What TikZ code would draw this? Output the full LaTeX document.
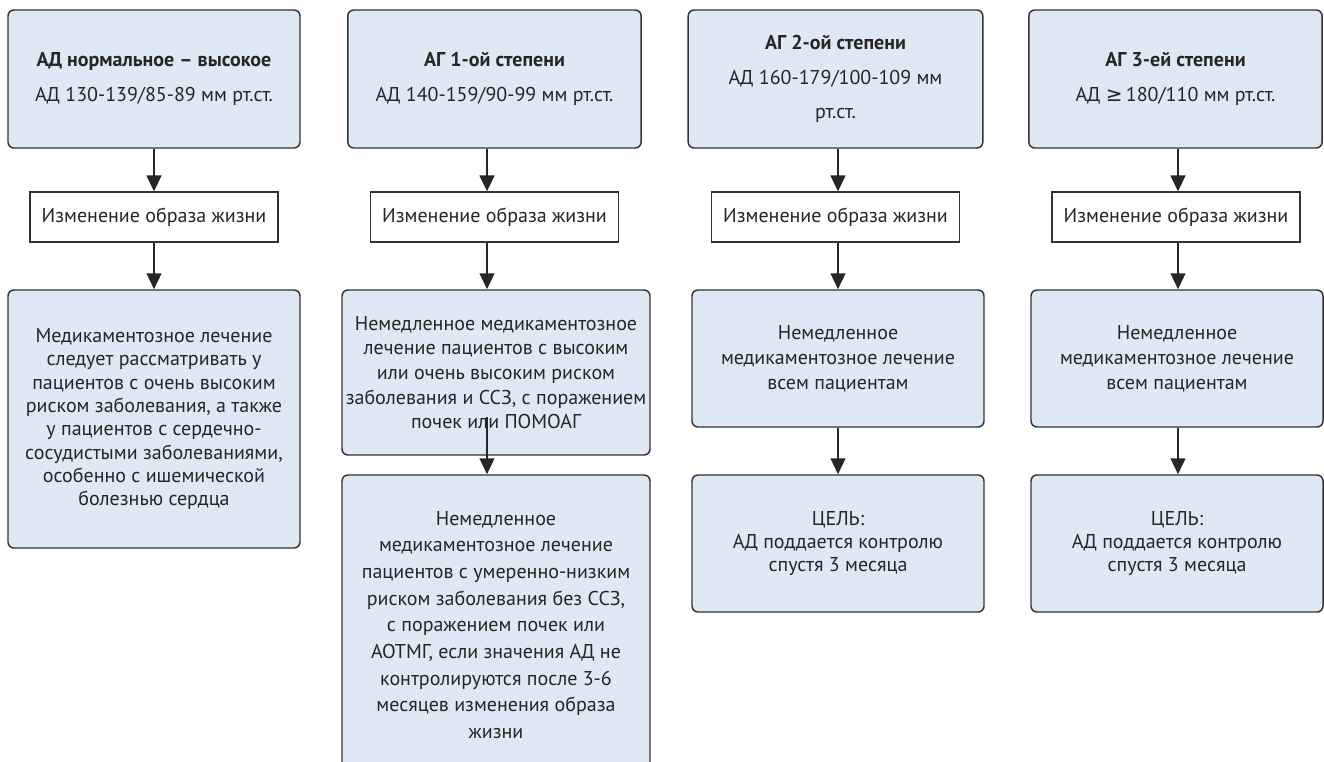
\documentclass[tikz,border=0pt]{standalone}
\usepackage{fontspec}
\setmainfont{PT Sans}
\newfontfamily\symfont{DejaVu Sans}
\usetikzlibrary{arrows.meta}

\definecolor{boxblue}{RGB}{223,232,245}
\definecolor{boxline}{RGB}{51,51,51}
\definecolor{inkgray}{RGB}{38,38,38}
\newcommand\boxfont[1]{\fontsize{15}{#1}\selectfont}

\tikzset{
  stage/.style={draw=boxline, line width=1.1pt, fill=boxblue, rounded corners=4.5pt,
    align=center, inner sep=0pt, text=inkgray, font=\boxfont{18}},
  lifebox/.style={draw=boxline, line width=0.9pt, fill=white, align=center, inner sep=0pt,
    minimum width=186pt, minimum height=37.5pt, text=inkgray, font=\boxfont{18}},
  arr/.style={line width=1.8pt, draw=black!85, -{Triangle[width=11pt,length=12pt]}},
}

\begin{document}
\begin{tikzpicture}[x=0.75pt, y=-0.75pt]
	\clip (0,0) rectangle (1324,761);
	% grades
	\node[stage, minimum width=219pt, minimum height=103.5pt, font=\boxfont{26}] (top1) at (154,79)
		{\textbf{АД нормальное – высокое}\\АД 130-139/85-89 мм рт.ст.};
	\node[stage, minimum width=220pt, minimum height=103.5pt, font=\boxfont{26}] (top2) at (494.5,79)
		{\textbf{АГ 1-ой степени}\\АД 140-159/90-99 мм рт.ст.};
	\node[stage, minimum width=221pt, minimum height=103.5pt, font=\boxfont{26}] (top3) at (835.5,79)
		{\textbf{АГ 2-ой степени}\\АД 160-179/100-109 мм\\рт.ст.};
	\node[stage, minimum width=220pt, minimum height=103.5pt, font=\boxfont{26}] (top4) at (1175.5,79)
		{\textbf{АГ 3-ей степени}\\АД {\symfont ≥}\,180/110 мм рт.ст.};
	% lifestyle
	\foreach \c/\x in {1/154, 2/494.5, 3/835.5, 4/1176} {
		\node[lifebox] (life\c) at (\x,217) {Изменение образа жизни};
	}
	% treatment
	\node[stage, minimum width=219pt, minimum height=193.5pt, font=\boxfont{17.5}] (med1) at (154,419)
		{Медикаментозное лечение\\следует рассматривать у\\пациентов с очень высоким\\риском заболевания, а также\\у пациентов с сердечно-\\сосудистыми заболеваниями,\\особенно с ишемической\\болезнью сердца};
	\node[stage, minimum width=231pt, minimum height=123.75pt, font=\boxfont{18.5}] (med2) at (496,372.5)
		{Немедленное медикаментозное\\лечение пациентов с высоким\\или очень высоким риском\\заболевания и ССЗ, с поражением\\почек или ПОМОАГ};
	\node[stage, minimum width=231pt, minimum height=225pt, font=\boxfont{20}] (med2b) at (496,625)
		{Немедленное\\медикаментозное лечение\\пациентов с умеренно-низким\\риском заболевания без ССЗ,\\с поражением почек или\\АОТМГ, если значения АД не\\контролируются после 3-6\\месяцев изменения образа\\жизни};
	\foreach \c/\x in {3/838, 4/1177} {
		\node[stage, minimum width=219pt, minimum height=102.75pt, font=\boxfont{18.75}] (med\c) at (\x,358.5)
			{Немедленное\\медикаментозное лечение\\всем пациентам};
		\node[stage, minimum width=219pt, minimum height=102.75pt, font=\boxfont{17.5}] (goal\c) at (\x,543.5)
			{ЦЕЛЬ:\\АД поддается контролю\\спустя 3 месяца};
	}
	% arrows
	\foreach \c/\ax in {1/154, 2/487, 3/838, 4/1178} {
		\coordinate (ax\c) at (\ax,0);
		\draw[arr] (top\c.south -| ax\c) -- (life\c.north -| ax\c);
		\draw[arr] (life\c.south -| ax\c) -- (med\c.north -| ax\c);
	}
	\coordinate (m2in) at (487,417);
	\draw[arr] (m2in) -- (m2in |- med2b.north);
	\foreach \c in {3,4}
		\draw[arr] (med\c.south -| ax\c) -- (goal\c.north -| ax\c);
\end{tikzpicture}
\end{document}
